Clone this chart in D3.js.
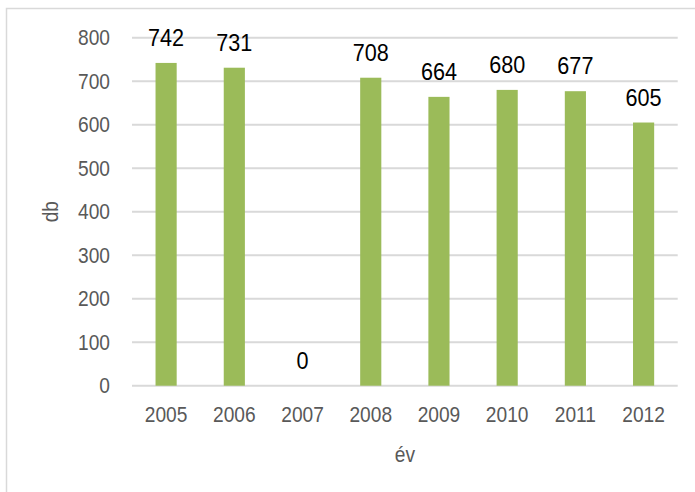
<!DOCTYPE html>
<html>
<head>
<meta charset="utf-8">
<script src="https://cdn.jsdelivr.net/npm/d3@7"></script>
<style>
  body { margin: 0; background: #fff; }
  svg text { font-family: "Liberation Sans", Arial, sans-serif; }
</style>
</head>
<body>
<div class="canvas"></div>
<script>
// adatok
const years = ['2005', '2006', '2007', '2008', '2009', '2010', '2011', '2012'];
const counts = [742, 731, 0, 708, 664, 680, 677, 605];
const yTicks = [0, 100, 200, 300, 400, 500, 600, 700, 800];

const width = 695;
const height = 492;
// a szoveg kicsit keskenyebb az eredetin
const sx = 0.86;

const svg = d3
	.select('.canvas')
	.append('svg')
	.attr('width', width)
	.attr('height', height);

// keret
svg.append('rect')
	.attr('x', 6.5)
	.attr('y', 8.5)
	.attr('width', 720)
	.attr('height', 520)
	.attr('fill', 'none')
	.attr('stroke', '#d9d9d9')
	.attr('stroke-width', 1.5);

const margin = { top: 37.7, left: 132, right: 17.3, bottom: 106.3 };
const diagramWidth = width - margin.left - margin.right;
const diagramHeight = height - margin.top - margin.bottom;

const diagram = svg
	.append('g')
	.attr('transform', `translate(${margin.left}, ${margin.top})`);

const x = d3
	.scaleBand()
	.domain(years)
	.range([0, diagramWidth])
	.paddingInner(0.69)
	.paddingOuter(0.345);

const y = d3.scaleLinear().domain([0, 800]).range([diagramHeight, 0]);

// racsvonalak
diagram.append('g')
	.selectAll('line')
	.data(yTicks)
	.enter()
	.append('line')
	.attr('x1', 0)
	.attr('x2', diagramWidth)
	.attr('y1', d => y(d))
	.attr('y2', d => y(d))
	.attr('stroke', '#d9d9d9')
	.attr('stroke-width', 2);

// tengelyek
const yAxisGroup = diagram.append('g')
	.call(d3.axisLeft(y).tickValues(yTicks).tickSize(0).tickPadding(22 / sx));
yAxisGroup.select('.domain').remove();
yAxisGroup.selectAll('text')
	.attr('fill', '#595959')
	.attr('transform', `scale(${sx}, 1)`)
	.style('font-size', '22.3px');

const xAxisGroup = diagram.append('g')
	.attr('transform', `translate(0, ${diagramHeight})`)
	.call(d3.axisBottom(x).tickSize(0).tickPadding(20.5));
xAxisGroup.select('.domain').remove();
xAxisGroup.selectAll('text')
	.attr('fill', '#595959')
	.attr('transform', `scale(${sx}, 1)`)
	.style('font-size', '22.3px');

// oszlopok
diagram.selectAll('rect.bar')
	.data(counts)
	.enter()
	.append('rect')
	.attr('class', 'bar')
	.attr('x', (d, i) => x(years[i]))
	.attr('width', x.bandwidth())
	.attr('y', d => y(d))
	.attr('height', d => diagramHeight - y(d))
	.attr('fill', '#9bbb59');

// ertekek
diagram.selectAll('text.label')
	.data(counts)
	.enter()
	.append('text')
	.attr('class', 'label')
	.attr('transform', (d, i) => `translate(${x(years[i]) + x.bandwidth() / 2}, ${y(d) - 17}) scale(0.9, 1)`)
	.attr('text-anchor', 'middle')
	.attr('fill', '#000')
	.style('font-size', '24px')
	.text(d => d);

// tengelycimek
svg.append('text')
	.attr('transform', `translate(${margin.left + diagramWidth / 2}, 462) scale(${sx}, 1)`)
	.attr('text-anchor', 'middle')
	.attr('fill', '#595959')
	.style('font-size', '22.3px')
	.text('év');

svg.append('text')
	.attr('transform', `translate(58, ${margin.top + diagramHeight / 2}) rotate(-90) scale(${sx}, 1)`)
	.attr('text-anchor', 'middle')
	.attr('fill', '#595959')
	.style('font-size', '22.3px')
	.text('db');
</script>
</body>
</html>
